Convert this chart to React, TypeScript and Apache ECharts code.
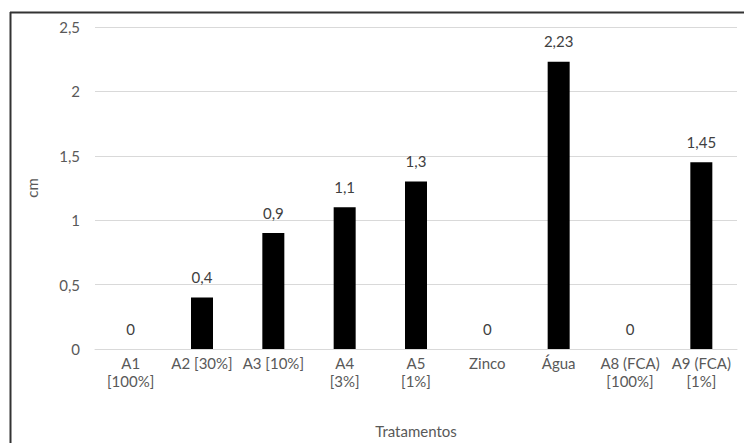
import React, { useEffect, useRef } from "react";
import * as echarts from "echarts";

const categories = [
  "A1\n[100%]",
  "A2 [30%]",
  "A3 [10%]",
  "A4\n[3%]",
  "A5\n[1%]",
  "Zinco",
  "Água",
  "A8 (FCA)\n[100%]",
  "A9 (FCA)\n[1%]",
];
const values = [0, 0.4, 0.9, 1.1, 1.3, 0, 2.23, 0, 1.45];
const yAxisName = "cm";
const xAxisName = "Tratamentos";

const fmt = (v: number) => String(v).replace(".", ",");

export default function App() {
  const ref = useRef<HTMLDivElement>(null);
  useEffect(() => {
    if (!ref.current) return;
    const chart = echarts.init(ref.current, undefined, { renderer: "svg" });
    const font = "Lato, 'Open Sans', sans-serif";
    const fs = 15;
    chart.setOption({
      animation: false,
      backgroundColor: "#ffffff",
      textStyle: { fontFamily: font },
      grid: { left: 95, right: 7, top: 27, bottom: 94 },
      graphic: [
        {
          type: "line",
          shape: { x1: 10.5, y1: 12, x2: 10.5, y2: 443 },
          style: { stroke: "#333", lineWidth: 2 },
          silent: true,
        },
        {
          type: "line",
          shape: { x1: 10, y1: 12.5, x2: 744, y2: 12.5 },
          style: { stroke: "#333", lineWidth: 2 },
          silent: true,
        },
      ],
      xAxis: {
        type: "category",
        data: categories,
        name: xAxisName,
        nameLocation: "middle",
        nameGap: 74,
        nameTextStyle: { color: "#595959", fontSize: fs, fontFamily: font },
        axisLine: { lineStyle: { color: "#d9d9d9", width: 1 } },
        axisTick: { show: false },
        axisLabel: {
          color: "#595959",
          fontSize: fs,
          fontFamily: font,
          interval: 0,
          margin: 5,
          lineHeight: 18,
        },
      },
      yAxis: {
        type: "value",
        min: 0,
        max: 2.5,
        interval: 0.5,
        name: yAxisName,
        nameLocation: "middle",
        nameGap: 56,
        nameRotate: 90,
        nameTextStyle: { color: "#595959", fontSize: fs, fontFamily: font },
        axisLine: { show: false },
        axisTick: { show: false },
        axisLabel: {
          color: "#595959",
          fontSize: fs,
          fontFamily: font,
          margin: 15,
          formatter: (v: number) => fmt(v),
        },
        splitLine: { lineStyle: { color: "#d9d9d9", width: 1 } },
      },
      series: [
        {
          type: "bar",
          data: values,
          barWidth: 22,
          itemStyle: { color: "#000000" },
          label: {
            show: true,
            position: "top",
            distance: 13,
            color: "#404040",
            fontSize: fs,
            fontFamily: font,
            formatter: (p: any) => fmt(p.value),
          },
        },
      ],
    });
    return () => chart.dispose();
  }, []);
  return <div ref={ref} style={{ width: 744, height: 443, position: "absolute", left: 0, top: 0 }} />;
}
